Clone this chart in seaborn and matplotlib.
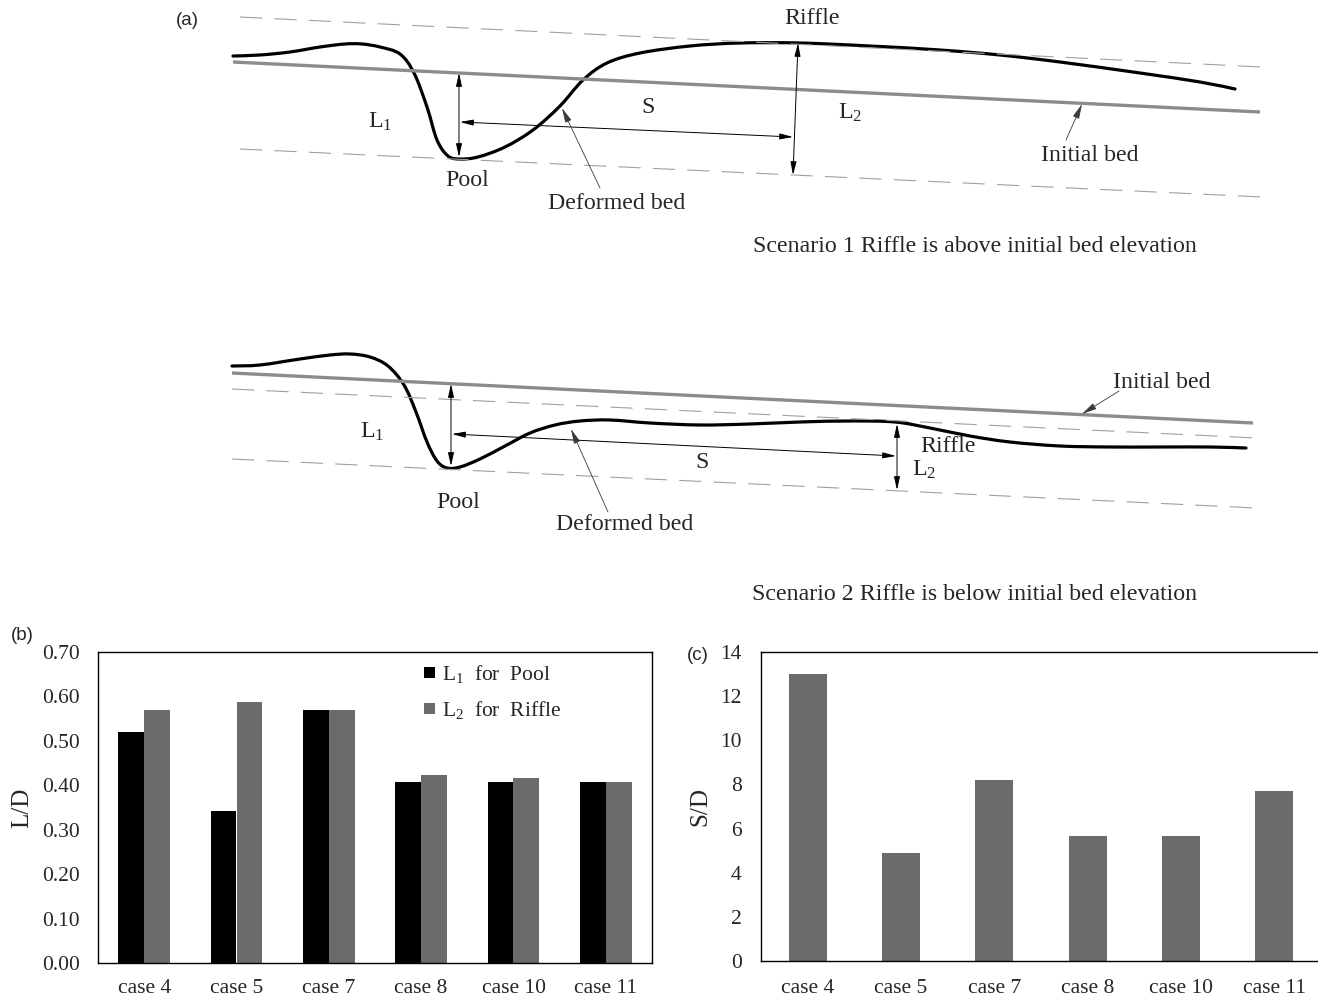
import numpy as np
import pandas as pd
import matplotlib
matplotlib.use("Agg")
import matplotlib.pyplot as plt
from matplotlib.path import Path
from matplotlib.patches import PathPatch, Patch
from matplotlib.ticker import FormatStrFormatter
import seaborn as sns

# ---------------- data ----------------
cases = ["case 4", "case 5", "case 7", "case 8", "case 10", "case 11"]
l1_pool = [0.52, 0.342, 0.57, 0.408, 0.408, 0.408]
l2_riffle = [0.57, 0.588, 0.57, 0.423, 0.417, 0.408]
s_over_d = [13.0, 4.9, 8.2, 5.65, 5.65, 7.7]
yticks_b = [0.0, 0.1, 0.2, 0.3, 0.4, 0.5, 0.6, 0.7]
yticks_c = [0, 2, 4, 6, 8, 10, 12, 14]

# schematic (a): profile points (pixel-like units)
s1_bed_x = [233, 260, 290, 320, 345, 362, 380, 400, 414, 427, 437, 448, 460, 478, 505,
            533, 560, 583, 607, 640, 690, 740, 800, 870, 940, 1000, 1060, 1140, 1200, 1235]
s1_bed_y = [56, 55, 52, 47, 44, 44, 47, 54, 73, 107, 140, 156, 159, 157, 147,
            130, 106, 80, 63, 53, 46, 43, 43, 46, 50, 55, 62, 73, 82, 89]
s1_initial = [(233, 62), (1260, 112)]
s1_dash_up = [(240, 17), (1262, 67)]
s1_dash_lo = [(240, 149), (1262, 197)]

s2_bed_x = [232, 260, 300, 330, 350, 370, 388, 404, 416, 427, 437, 447, 460, 480, 505,
            530, 555, 580, 610, 650, 700, 750, 800, 850, 895, 930, 970, 1010, 1060, 1110,
            1160, 1210, 1246]
s2_bed_y = [366, 365, 359, 355, 354, 357, 366, 385, 412, 442, 461, 468, 467, 459, 446,
            433, 425, 421, 420, 423, 425, 424, 422, 421, 422, 428, 436, 442, 446, 447,
            447, 447, 448]
s2_initial = [(232, 373), (1253, 423)]
s2_dash_up = [(232, 389), (1256, 438)]
s2_dash_lo = [(232, 459), (1256, 508)]

# dimension arrows (start, end)
s1_dims = [((459, 73), (459, 157)), ((460, 122), (793, 137)), ((798, 43), (793, 175))]
s2_dims = [((451, 384), (451, 466)), ((452, 434), (896, 456)), ((897, 424), (897, 490))]
# pointer arrows (from, to)
s1_pointers = [((600, 188), (562, 108)), ((1066, 140), (1082, 104))]
s2_pointers = [((608, 512), (571, 429)), ((1119, 391), (1082, 414))]

s1_labels = [("Riffle", 812, 18), (r"$\mathregular{L_1}$", 380, 122), ("S", 648, 107),
             (r"$\mathregular{L_2}$", 850, 113), ("Pool", 467, 180),
             ("Deformed bed", 617, 203), ("Initial bed", 1090, 155),
             ("Scenario 1 Riffle is above initial bed elevation", 975, 246)]
s2_labels = [("Initial bed", 1162, 383), (r"$\mathregular{L_1}$", 372, 432), ("S", 702, 462),
             ("Riffle", 948, 446), (r"$\mathregular{L_2}$", 924, 470), ("Pool", 458, 502),
             ("Deformed bed", 625, 525),
             ("Scenario 2 Riffle is below initial bed elevation", 975, 595)]

# ---------------- style ----------------
sns.set_style("white")
plt.rcParams["font.family"] = ["Liberation Serif", "DejaVu Serif"]
plt.rcParams["mathtext.fontset"] = "stix"
plt.rcParams["axes.edgecolor"] = "black"
plt.rcParams["axes.linewidth"] = 1.0

BLACK = "#000000"
GRAY = "#6b6b6b"
BEDGRAY = "#8c8c8c"
DASHGRAY = "#a0a0a0"

W, H = 1318, 998
fig = plt.figure(figsize=(W / 100, H / 100), dpi=100)

# full-figure schematic canvas
ax0 = fig.add_axes([0, 0, 1, 1])
ax0.set_xlim(0, W)
ax0.set_ylim(H, 0)
ax0.axis("off")


def smooth_path(xs, ys):
    """Cubic Bezier path through the read points (Catmull-Rom tangents)."""
    p = np.column_stack([xs, ys]).astype(float)
    n = len(p)
    verts = [p[0]]
    codes = [Path.MOVETO]
    for i in range(n - 1):
        p0 = p[max(i - 1, 0)]
        p1 = p[i]
        p2 = p[i + 1]
        p3 = p[min(i + 2, n - 1)]
        c1 = p1 + (p2 - p0) / 6.0
        c2 = p2 - (p3 - p1) / 6.0
        verts += [c1, c2, p2]
        codes += [Path.CURVE4] * 3
    return Path(verts, codes)


def draw_scenario(bx, by, initial, dup, dlo, dims, pointers, labels):
    for seg in (dup, dlo):
        ax0.plot([seg[0][0], seg[1][0]], [seg[0][1], seg[1][1]], color=DASHGRAY,
                 lw=0.8, dashes=(20, 11))
    ax0.plot([initial[0][0], initial[1][0]], [initial[0][1], initial[1][1]],
             color=BEDGRAY, lw=2.4, solid_capstyle="butt")
    ax0.add_patch(PathPatch(smooth_path(bx, by), fill=False, lw=2.3, ec="black",
                            capstyle="round", joinstyle="round"))
    for (p0, p1) in dims:
        ax0.annotate("", xy=p1, xytext=p0, xycoords="data",
                     arrowprops=dict(arrowstyle="<|-|>,head_length=8,head_width=1.8",
                                     mutation_scale=1, lw=0.7, color="black",
                                     shrinkA=0, shrinkB=0))
    for (p0, p1) in pointers:
        ax0.annotate("", xy=p1, xytext=p0, xycoords="data",
                     arrowprops=dict(arrowstyle="-|>,head_length=9,head_width=2",
                                     mutation_scale=1, lw=0.6, color="#3a3a3a",
                                     shrinkA=0, shrinkB=0))
    for (txt, x, y) in labels:
        ax0.text(x, y, txt, fontsize=17.2, ha="center", va="center")


draw_scenario(s1_bed_x, s1_bed_y, s1_initial, s1_dash_up, s1_dash_lo, s1_dims,
              s1_pointers, s1_labels)
draw_scenario(s2_bed_x, s2_bed_y, s2_initial, s2_dash_up, s2_dash_lo, s2_dims,
              s2_pointers, s2_labels)

ax0.text(187, 20, "(a)", fontsize=13.5, family="Liberation Sans", ha="center", va="center")
ax0.text(22, 636, "(b)", fontsize=13.5, family="Liberation Sans", ha="center", va="center")
ax0.text(698, 655, "(c)", fontsize=13.5, family="Liberation Sans", ha="center", va="center")

# ---------------- panel (b) ----------------
df_b = pd.DataFrame({
    "case": cases * 2,
    "series": ["L1"] * len(cases) + ["L2"] * len(cases),
    "value": l1_pool + l2_riffle,
})
ax_b = fig.add_axes([98 / W, (H - 963) / H, 554 / W, 311 / H])
sns.barplot(data=df_b, x="case", y="value", hue="series", palette=[BLACK, GRAY],
            width=0.56, saturation=1, gap=0, linewidth=0, legend=False, ax=ax_b)
ax_b.set_xlim(-0.5, len(cases) - 0.5)
ax_b.set_ylim(0, 0.70)
ax_b.set_yticks(yticks_b)
ax_b.yaxis.set_major_formatter(FormatStrFormatter("%.2f"))
ax_b.tick_params(axis="both", length=0, labelsize=15.5)
ax_b.tick_params(axis="y", pad=13)
ax_b.tick_params(axis="x", pad=11.5)
ax_b.set_xlabel("")
ax_b.set_ylabel("L/D", fontsize=18, va="center")
ax_b.yaxis.set_label_coords(-0.137, 0.5)
for sp in ax_b.spines.values():
    sp.set_visible(True)
    sp.set_color("black")
    sp.set_linewidth(1.0)
handles = [Patch(facecolor=BLACK, edgecolor="none"), Patch(facecolor=GRAY, edgecolor="none")]
ax_b.legend(handles, [r"$\mathregular{L_1}$  for  Pool", r"$\mathregular{L_2}$  for  Riffle"],
            loc="upper left", bbox_to_anchor=(0.588, 0.965), frameon=False,
            fontsize=15.5, handlelength=0.5, handleheight=0.4, handletextpad=0.35,
            labelspacing=0.65, borderpad=0, borderaxespad=0)

# ---------------- panel (c) ----------------
df_c = pd.DataFrame({"case": cases, "sd": s_over_d})
ax_c = fig.add_axes([761 / W, (H - 961) / H, 560 / W, 309 / H])
sns.barplot(data=df_c, x="case", y="sd", color=GRAY, width=0.41, saturation=1,
            linewidth=0, ax=ax_c)
ax_c.set_xlim(-0.5, len(cases) - 0.5)
ax_c.set_ylim(0, 14)
ax_c.set_yticks(yticks_c)
ax_c.tick_params(axis="both", length=0, labelsize=15.5)
ax_c.tick_params(axis="y", pad=14)
ax_c.tick_params(axis="x", pad=13)
ax_c.set_xlabel("")
ax_c.set_ylabel("S/D", fontsize=18, va="center")
ax_c.yaxis.set_label_coords(-0.109, 0.5)
for sp in ax_c.spines.values():
    sp.set_visible(True)
    sp.set_color("black")
    sp.set_linewidth(1.0)

fig.savefig("out.png", dpi=100)
